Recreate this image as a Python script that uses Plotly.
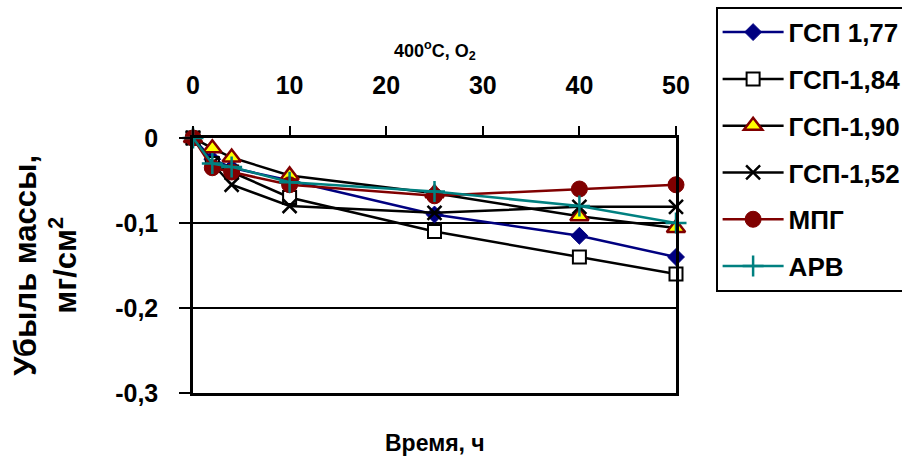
import plotly.graph_objects as go

time_h = [0, 2, 4, 10, 25, 40, 50]
gsp_177 = [0, -0.025, -0.035, -0.05, -0.09, -0.115, -0.14]
gsp_184 = [0, -0.03, -0.04, -0.07, -0.11, -0.14, -0.16]
gsp_190 = [0, -0.012, -0.023, -0.044, -0.065, -0.092, -0.106]
gsp_152 = [0, -0.03, -0.055, -0.08, -0.088, -0.081, -0.081]
mpg = [0, -0.035, -0.04, -0.055, -0.068, -0.06, -0.055]
arv = [0, -0.03, -0.034, -0.052, -0.063, -0.08, -0.1]

x_ticks = [0, 10, 20, 30, 40, 50]
y_ticks = [0, -0.1, -0.2, -0.3]
y_tick_labels = ["0", "-0,1", "-0,2", "-0,3"]

FONT = "Liberation Sans, Arial, sans-serif"
LW = 2.5

series = [
    ("ГСП 1,77", gsp_177, dict(color="#000080", width=LW),
     dict(symbol="diamond", size=13, color="#000080", line=dict(color="#000080", width=1))),
    ("ГСП-1,84", gsp_184, dict(color="black", width=LW),
     dict(symbol="square", size=13, color="white", line=dict(color="black", width=2))),
    ("ГСП-1,90", gsp_190, dict(color="black", width=LW),
     dict(symbol="triangle-up", size=16, color="#ffff00", line=dict(color="#800000", width=2.5))),
    ("ГСП-1,52", gsp_152, dict(color="black", width=LW),
     dict(symbol="x-thin", size=14, color="black", line=dict(color="black", width=2.5))),
    ("МПГ", mpg, dict(color="#800000", width=LW),
     dict(symbol="circle", size=16, color="#800000", line=dict(color="#800000", width=1))),
    ("АРВ", arv, dict(color="#008080", width=LW),
     dict(symbol="cross-thin", size=15, color="#008080", line=dict(color="#008080", width=2.5))),
]

fig = go.Figure()
for i, (name, vals, ln, mk) in enumerate(series):
    fig.add_trace(go.Scatter(x=time_h, y=vals, name=name, mode="lines+markers",
                             line=ln, marker=mk, legendgroup=f"g{i}", cliponaxis=False))

fig.update_layout(
    width=902, height=461,
    margin=dict(l=193, r=226, t=138, b=68, autoexpand=False),
    paper_bgcolor="white", plot_bgcolor="white",
    font=dict(family=FONT, color="black"),
    showlegend=True,
    legend=dict(x=1.082, y=1.515, xanchor="left", yanchor="top",
                bordercolor="black", borderwidth=2, bgcolor="white",
                font=dict(size=26, family=FONT, weight="bold"),
                tracegroupgap=10, itemwidth=61, maxheight=440),
    xaxis=dict(side="top", range=[0, 50], tickvals=x_ticks, ticktext=[str(v) for v in x_ticks],
               showgrid=False, zeroline=False, showline=True, linecolor="black", linewidth=2.5,
               mirror=True, ticks="outside", ticklen=9, tickwidth=2, tickcolor="black",
               ticklabelstandoff=22,
               tickfont=dict(size=25, family=FONT, weight="bold")),
    yaxis=dict(range=[-0.3, 0], tickvals=y_ticks, ticktext=y_tick_labels,
               showgrid=True, gridcolor="black", gridwidth=2, zeroline=False,
               showline=True, linecolor="black", linewidth=2.5, mirror=True,
               ticks="outside", ticklen=11, tickwidth=2, tickcolor="black",
               ticklabelstandoff=16,
               tickfont=dict(size=25, family=FONT, weight="bold")),
    annotations=[
        dict(text="400<sup>o</sup>C, O<sub>2</sub>", xref="paper", yref="paper", x=0.5, y=1.345,
             xanchor="center", yanchor="middle",
             showarrow=False, font=dict(size=18, family=FONT, weight="bold")),
        dict(text="Время, ч", xref="paper", yref="paper", x=0.5, y=-0.196,
             xanchor="center", yanchor="middle",
             showarrow=False, font=dict(size=23, family=FONT, weight="bold")),
        dict(text="Убыль массы,<br>мг/см<sup>2</sup>", xref="paper", yref="paper", x=-0.306, y=0.5,
             xanchor="center", yanchor="middle",
             textangle=-90, showarrow=False, font=dict(size=31, family=FONT, weight="bold")),
    ],
)

fig.write_html("out.html", config={"displayModeBar": False},
               post_script="document.body.style.margin='0';")
